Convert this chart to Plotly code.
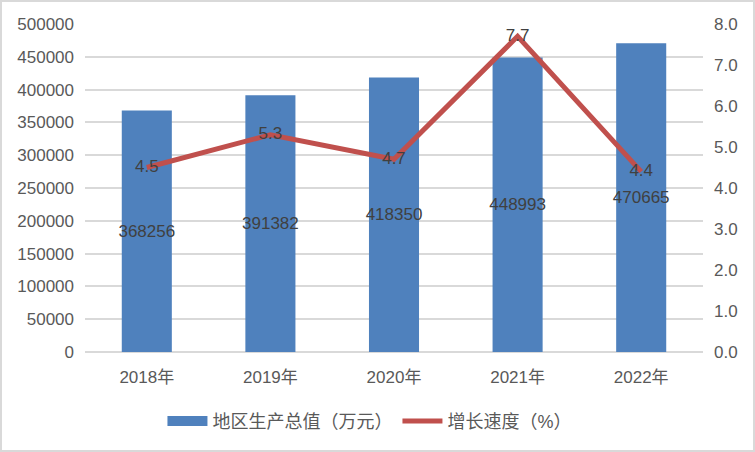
import plotly.graph_objects as go

# data
years = ["2018年", "2019年", "2020年", "2021年", "2022年"]
gdp = [368256, 391382, 418350, 448993, 470665]
growth = [4.5, 5.3, 4.7, 7.7, 4.4]

W, H = 755, 452
M = dict(l=85, r=52, t=24, b=100)

BAR_BLUE = "#4F81BD"
LINE_RED = "#C0504D"
GRID = "#D9D9D9"
TICK_GREY = "#595959"
LABEL_GREY = "#404040"
FONT = "Liberation Sans, Noto Sans CJK SC, sans-serif"

fig = go.Figure()

fig.add_trace(go.Bar(
    x=years, y=gdp, name="地区生产总值（万元）",
    marker=dict(color=BAR_BLUE, line=dict(width=0)),
    text=[str(v) for v in gdp],
    textposition="inside", insidetextanchor="middle",
    textangle=0, constraintext="none",
    textfont=dict(family=FONT, size=17, color=LABEL_GREY),
    hovertemplate="%{x}<br>%{y}<extra></extra>",
    showlegend=False,
))

fig.add_trace(go.Scatter(
    x=years, y=growth, name="增长速度（%）", yaxis="y2",
    mode="lines+text",
    line=dict(color=LINE_RED, width=5),
    text=[f"{v:.1f}" for v in growth],
    textposition="middle center",
    textfont=dict(family=FONT, size=17, color=LABEL_GREY),
    hovertemplate="%{x}<br>%{y:.1f}%<extra></extra>",
    legendrank=2,
))

# legend entry for the bars: a thick line gives the wide block swatch
fig.add_trace(go.Scatter(
    x=[None], y=[None], name="地区生产总值（万元）",
    mode="lines", line=dict(color=BAR_BLUE, width=13),
    hoverinfo="skip", legendrank=1,
))

# outer grey frame around the whole chart
pw = W - M["l"] - M["r"]
ph = H - M["t"] - M["b"]
fig.add_shape(
    type="rect", xref="paper", yref="paper",
    x0=-(M["l"] - 1) / pw, x1=1 + (M["r"] - 1) / pw,
    y0=-(M["b"] - 1) / ph, y1=1 + (M["t"] - 1) / ph,
    line=dict(color=GRID, width=2), layer="below",
)

fig.update_layout(
    width=W, height=H, margin=M,
    plot_bgcolor="white", paper_bgcolor="white",
    font=dict(family=FONT, size=17, color=TICK_GREY),
    bargap=0.595,
    showlegend=True,
    legend=dict(
        orientation="h", x=0.49, xref="container", xanchor="center",
        y=0.068, yref="container", yanchor="middle",
        font=dict(family=FONT, size=18, color=TICK_GREY),
        itemwidth=40,
    ),
    xaxis=dict(
        showgrid=False, zeroline=False, showline=False,
        ticks="", ticklabelstandoff=13,
        tickfont=dict(family=FONT, size=17, color=TICK_GREY),
    ),
    yaxis=dict(
        range=[0, 500000], dtick=50000, tickformat="d",
        showgrid=True, gridcolor=GRID, gridwidth=1.5,
        zeroline=True, zerolinecolor=GRID, zerolinewidth=1.5,
        showline=False, ticks="", ticklabelstandoff=10,
        tickfont=dict(family=FONT, size=17, color=TICK_GREY),
    ),
    yaxis2=dict(
        range=[0, 8], dtick=1, tickformat=".1f",
        overlaying="y", side="right",
        showgrid=False, zeroline=False, showline=False,
        ticks="", ticklabelstandoff=10,
        tickfont=dict(family=FONT, size=17, color=TICK_GREY),
    ),
)

# drop the browser's default page margin so the chart sits at 0,0
fig.write_html(
    "out.html",
    config={"displayModeBar": False},
    post_script="document.body.style.margin='0';",
)
